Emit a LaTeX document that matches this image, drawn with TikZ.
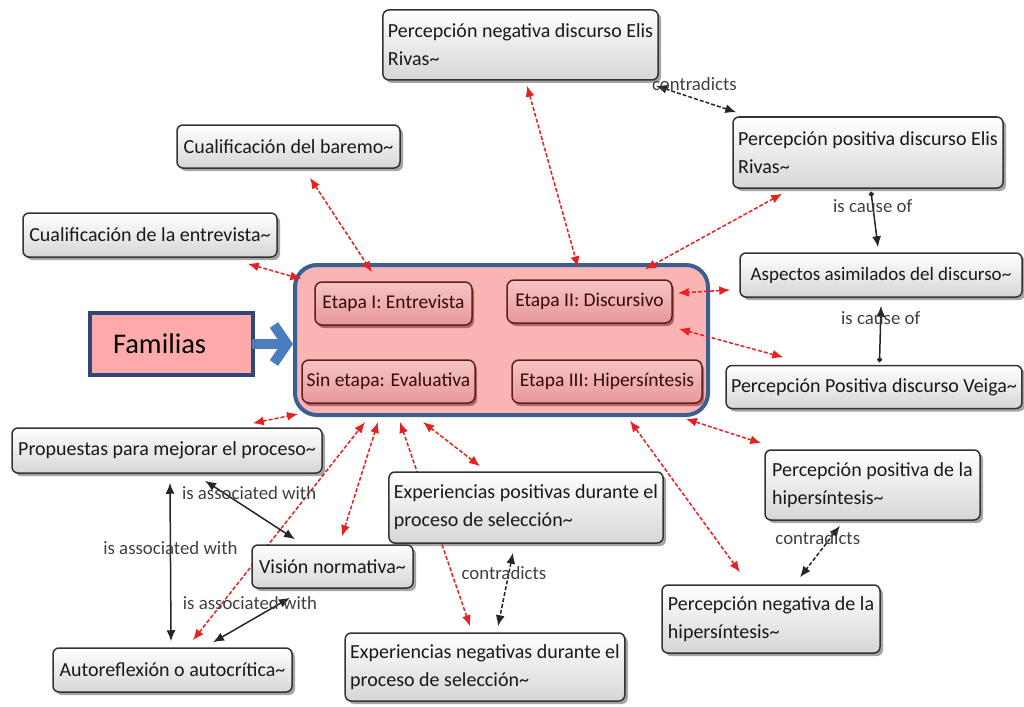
\documentclass[tikz,border=0pt]{standalone}
\usepackage{fontspec}
\setmainfont{Carlito}
\usepackage{tikz}
\usetikzlibrary{arrows.meta,positioning,calc,shadows}

\definecolor{rosa}{RGB}{250,180,180}
\definecolor{azulborde}{RGB}{58,96,145}
\definecolor{etapaclaro}{RGB}{247,196,196}
\definecolor{etapaoscuro}{RGB}{232,152,152}
\definecolor{etapaborde}{RGB}{98,28,28}
\definecolor{etapatexto}{RGB}{50,12,12}
\definecolor{rojo}{RGB}{232,32,32}
\definecolor{flechaazul}{RGB}{76,126,190}
\definecolor{famfill}{RGB}{255,170,170}
\definecolor{famborde}{RGB}{42,72,122}

\pgfdeclarelayer{fondo}
\pgfdeclarelayer{enlaces}
\pgfsetlayers{fondo,enlaces,main}

\tikzset{
  concepto/.style={draw=black!80, line width=1.5pt, rounded corners=6pt,
    top color=white, bottom color=black!16,
    drop shadow={shadow xshift=3pt, shadow yshift=-3pt, fill=black!70},
    align=left, inner sep=5pt, font=\fontsize{20}{28}\selectfont, text=black!90},
  etapa/.style={draw=etapaborde, line width=1.5pt, rounded corners=7pt,
    top color=etapaclaro, bottom color=etapaoscuro,
    drop shadow={shadow xshift=2pt, shadow yshift=-3pt, fill=etapaborde},
    inner sep=4pt, font=\fontsize{19.5}{28}\selectfont, text=etapatexto},
  rel/.style={rojo, line width=1.5pt, dash pattern=on 4pt off 2pt,
    {Latex[length=11pt,width=9pt]}-{Latex[length=11pt,width=9pt]}},
  asoc/.style={black!85, line width=1.5pt,
    {Latex[length=11pt,width=9pt]}-{Latex[length=11pt,width=9pt]}},
  contra/.style={asoc, dash pattern=on 4pt off 2pt},
  causa/.style={black!85, line width=1.5pt,
    {Circle[length=5pt]}-{Latex[length=11pt,width=9pt]}},
  etiqueta/.style={font=\fontsize{18.8}{19}\selectfont, text=black!75, inner sep=0pt},
}

\begin{document}
\begin{tikzpicture}[x=1pt, y=-1pt]
\useasboundingbox (0,0) rectangle (1024,706);

% contenedor de las familias
\begin{pgfonlayer}{fondo}
  \node[draw=azulborde, line width=4pt, fill=rosa, rounded corners=22pt,
        minimum width=413pt, minimum height=150pt] (grupo) at (501.5,340) {};
\end{pgfonlayer}

% etapas
\node[etapa, minimum width=157pt, minimum height=43pt] (etapaI) at (393.5,303.5) {Etapa I: Entrevista};
\node[etapa, minimum width=165pt, minimum height=43pt] (etapaII) at (589.5,301.5) {Etapa II: Discursivo};
\node[etapa, minimum width=173pt, minimum height=43pt] (sinEtapa) at (388.5,381.5) {Sin etapa: Evaluativa};
\node[etapa, minimum width=190pt, minimum height=43pt] (etapaIII) at (607,381.5) {Etapa III: Hipersíntesis};

% rotulo Familias
\node[draw=famborde, line width=4pt, fill=famfill, minimum height=62pt,
      inner xsep=23pt, text width=117pt, align=left,
      font=\fontsize{28.5}{28}\selectfont] (familias) at (171.5,344) {Familias};
\draw[flechaazul, line width=10pt, -{Straight Barb[length=13pt,width=38pt]}]
  ([xshift=-3pt]familias.east) -- (familias.east -| grupo.west);

% conceptos
\node[concepto, minimum width=275pt, minimum height=70pt] (negElis) at (520.5,45) {Percepción negativa discurso Elis\\Rivas\textasciitilde};
\node[concepto, minimum width=223pt, minimum height=43pt] (baremo) at (288.5,146.5) {Cualificación del baremo\textasciitilde};
\node[concepto, minimum width=254pt, minimum height=44pt] (entrev) at (150,235) {Cualificación de la entrevista\textasciitilde};
\node[concepto, minimum width=270pt, minimum height=71pt] (posElis) at (868,152.5) {Percepción positiva discurso Elis\\Rivas\textasciitilde};
\node[concepto, minimum width=282pt, minimum height=44pt, font=\fontsize{19}{28}\selectfont] (aspectos) at (881,275) {Aspectos asimilados del discurso\textasciitilde};
\node[concepto, minimum width=293pt, minimum height=43pt] (veiga) at (874,387) {Percepción Positiva discurso Veiga\textasciitilde};
\node[concepto, minimum width=310pt, minimum height=45pt] (propuestas) at (167,450.5) {Propuestas para mejorar el proceso\textasciitilde};
\node[concepto, minimum width=161pt, minimum height=43pt] (vision) at (332.5,566.5) {Visión normativa\textasciitilde};
\node[concepto, minimum width=272pt, minimum height=71pt] (expPos) at (526,507.5) {Experiencias positivas durante el\\proceso de selección\textasciitilde};
\node[concepto, minimum width=276pt, minimum height=68pt] (expNeg) at (485,667) {Experiencias negativas durante el\\proceso de selección\textasciitilde};
\node[concepto, minimum width=239pt, minimum height=44pt] (autoref) at (172.5,670) {Autoreflexión o autocrítica\textasciitilde};
\node[concepto, minimum width=215pt, minimum height=70pt] (posHiper) at (872.5,485) {Percepción positiva de la\\hipersíntesis\textasciitilde};
\node[concepto, minimum width=218pt, minimum height=68pt] (negHiper) at (771,619) {Percepción negativa de la\\hipersíntesis\textasciitilde};

\begin{pgfonlayer}{enlaces}
% relaciones con las familias
\draw[rel] ([xshift=6.5pt,yshift=-5pt]negElis.south) -- ([xshift=-11.5pt,yshift=12pt]etapaII.north);
\draw[rel] ([xshift=21.5pt,yshift=-9pt]baremo.south) -- ([xshift=-21.5pt,yshift=9pt]etapaI.north);
\draw[rel] ([xshift=-30pt,yshift=-6pt]entrev.south east) -- ([xshift=-13pt,yshift=24.5pt]etapaI.west);
\draw[rel] ([xshift=50pt,yshift=-5pt]posElis.south west) -- ([xshift=55.5pt,yshift=10pt]etapaII.north);
\draw[rel] ([xshift=-9pt,yshift=-15pt]aspectos.west) -- ([xshift=5pt,yshift=8.5pt]etapaII.east);
\draw[rel] ([xshift=58pt,yshift=7.5pt]veiga.north west) -- ([xshift=6pt,yshift=-5pt]etapaII.south east);
\draw[rel] ([xshift=-70pt,yshift=4pt]propuestas.north east) -- ([xshift=5pt,yshift=3pt]grupo.south west);
\draw[rel] ([xshift=20.5pt,yshift=7pt]autoref.north) -- ([xshift=-136.5pt,yshift=-5pt]grupo.south);
\draw[rel] ([xshift=9.5pt,yshift=8pt]vision.north) -- ([xshift=-123.5pt,yshift=-5pt]grupo.south);
\draw[rel] ([xshift=-15pt,yshift=6pt]expNeg.north) -- ([xshift=-101.5pt,yshift=-5pt]grupo.south);
\draw[rel] ([xshift=-46pt,yshift=5pt]expPos.north) -- ([xshift=-78.5pt,yshift=-5pt]grupo.south);
\draw[rel] ([xshift=-31pt,yshift=12pt]negHiper.north) -- ([xshift=23pt,yshift=-17pt]etapaIII.south);
\draw[rel] ([xshift=-3pt,yshift=6pt]posHiper.north west) -- ([xshift=-17pt,yshift=-15pt]etapaIII.south east);

% relaciones entre conceptos
\draw[contra] ([xshift=-3pt,yshift=-5pt]negElis.south east) -- node[etiqueta, pos=0.48, yshift=14pt] {contradicts} ([xshift=4pt,yshift=4pt]posElis.north west);
\draw[causa] ([xshift=3pt,yshift=-3pt]posElis.south) -- node[etiqueta, pos=0.25] {is cause of} ([xshift=-3pt,yshift=5pt]aspectos.north);
\draw[causa] ([xshift=5.5pt,yshift=2.5pt]veiga.north) -- node[etiqueta, pos=0.79] {is cause of} ([yshift=-8pt]aspectos.south);
\draw[asoc] ([xshift=38pt,yshift=-7pt]propuestas.south) -- node[etiqueta, pos=0.49, yshift=16pt] {is associated with} ([xshift=-37.5pt,yshift=5pt]vision.north);
\draw[asoc] ([xshift=3pt,yshift=-9pt]propuestas.south) -- node[etiqueta, pos=0.41] {is associated with} ([xshift=-1.5pt,yshift=6pt]autoref.north);
\draw[asoc] ([xshift=-42.5pt,yshift=-9pt]vision.south) -- node[etiqueta, pos=0.52, yshift=18pt] {is associated with} ([xshift=40.5pt,yshift=5pt]autoref.north);
\draw[contra] ([xshift=-13pt,yshift=-9pt]expPos.south) -- node[etiqueta, pos=0.27, xshift=-5pt] {contradicts} ([xshift=13pt,yshift=6pt]expNeg.north);
\draw[contra] ([xshift=-32.5pt,yshift=-5pt]posHiper.south) -- node[etiqueta, pos=0.23, xshift=-13pt] {contradicts} ([xshift=29pt,yshift=7pt]negHiper.north);
\end{pgfonlayer}
\end{tikzpicture}
\end{document}
